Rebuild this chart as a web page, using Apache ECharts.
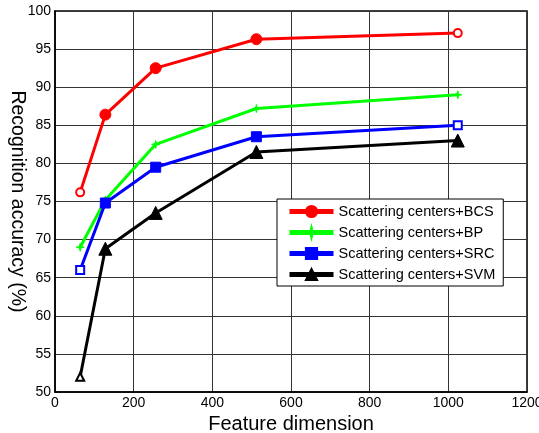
<!DOCTYPE html>
<html>
<head>
<meta charset="utf-8">
<script src="https://cdn.jsdelivr.net/npm/echarts@6/dist/echarts.min.js"></script>
<style>
  html, body { margin: 0; padding: 0; background: #fff; }
  #chart { width: 539px; height: 433px; }
</style>
</head>
<body>
<div id="chart"></div>
<script>
// feature dimensions on the x axis
const dims = [64, 128, 256, 512, 1024];
const bcs = [76.2, 86.4, 92.5, 96.3, 97.1];
const bp  = [69.0, 75.2, 82.5, 87.2, 89.0];
const src = [66.0, 74.8, 79.5, 83.5, 85.0];
const svm = [52.0, 68.8, 73.5, 81.5, 83.0];
const names = [
    'Scattering centers+BCS',
    'Scattering centers+BP',
    'Scattering centers+SRC',
    'Scattering centers+SVM'
];

const font = 'Liberation Sans, Arial, Helvetica, sans-serif';

// matlab draws some end markers hollow
function pts(vals, color, hollow) {
    return vals.map((v, i) => {
        let p = {value: [dims[i], v]};
        if (hollow.indexOf(i) >= 0) {
            p.itemStyle = {color: '#fff', borderColor: color, borderWidth: 2};
            p.symbolSize = 8;
        }
        return p;
    });
}

function line(name, vals, color, symbol, size, hollow) {
    return {
        name: name,
        type: 'line',
        data: pts(vals, color, hollow),
        symbol: symbol,
        symbolSize: size,
        showAllSymbol: true,
        lineStyle: {color: color, width: 3},
        itemStyle: {color: color, borderColor: color, borderWidth: 1},
        z: 3
    };
}

let chart = echarts.init(document.getElementById('chart'));
chart.setOption({
    animation: false,
    backgroundColor: '#fff',
    grid: {
        left: 55, right: 12, top: 11, bottom: 41,
        outerBoundsMode: 'none',
        containLabel: false,
        show: true, borderColor: '#000', borderWidth: 1.5
    },
    legend: {
        orient: 'vertical',
        left: 277, top: 199,
        padding: [5, 8, 4, 10],
        itemWidth: 44, itemHeight: 14, itemGap: 6,
        backgroundColor: '#fff',
        borderColor: '#000', borderWidth: 1,
        lineStyle: {width: 5},
        textStyle: {fontFamily: font, fontSize: 14.5, color: '#000'},
        data: names
    },
    xAxis: {
        type: 'value',
        min: 0, max: 1200, interval: 200,
        name: 'Feature dimension',
        nameLocation: 'middle',
        nameGap: 22,
        nameMoveOverlap: false,
        nameTextStyle: {fontFamily: font, fontSize: 20, color: '#000', verticalAlign: 'top'},
        axisLine: {lineStyle: {color: '#000', width: 1.5}},
        axisTick: {show: false},
        axisLabel: {fontFamily: font, fontSize: 14, color: '#000', margin: 4, formatter: v => String(v)},
        splitLine: {show: true, lineStyle: {color: '#333', width: 1}}
    },
    yAxis: {
        type: 'value',
        min: 50, max: 100, interval: 5,
        name: 'Recognition accuracy (%)',
        nameLocation: 'middle',
        nameRotate: -90,
        nameGap: 28,
        nameMoveOverlap: false,
        nameTextStyle: {fontFamily: font, fontSize: 19.5, color: '#000'},
        axisLine: {lineStyle: {color: '#000', width: 1.5}},
        axisTick: {show: false},
        axisLabel: {fontFamily: font, fontSize: 14, color: '#000', margin: 4},
        splitLine: {show: true, lineStyle: {color: '#333', width: 1}}
    },
    series: [
        line(names[0], bcs, '#ff0000', 'circle', 11, [0, 4]),
        line(names[1], bp, '#00ff00', 'path://M0,-10L2,-2L10,0L2,2L0,10L-2,2L-10,0L-2,-2Z', 8, []),
        line(names[2], src, '#0000ff', 'rect', 10, [0, 4]),
        line(names[3], svm, '#000000', 'triangle', 13, [0])
    ]
});
</script>
</body>
</html>
